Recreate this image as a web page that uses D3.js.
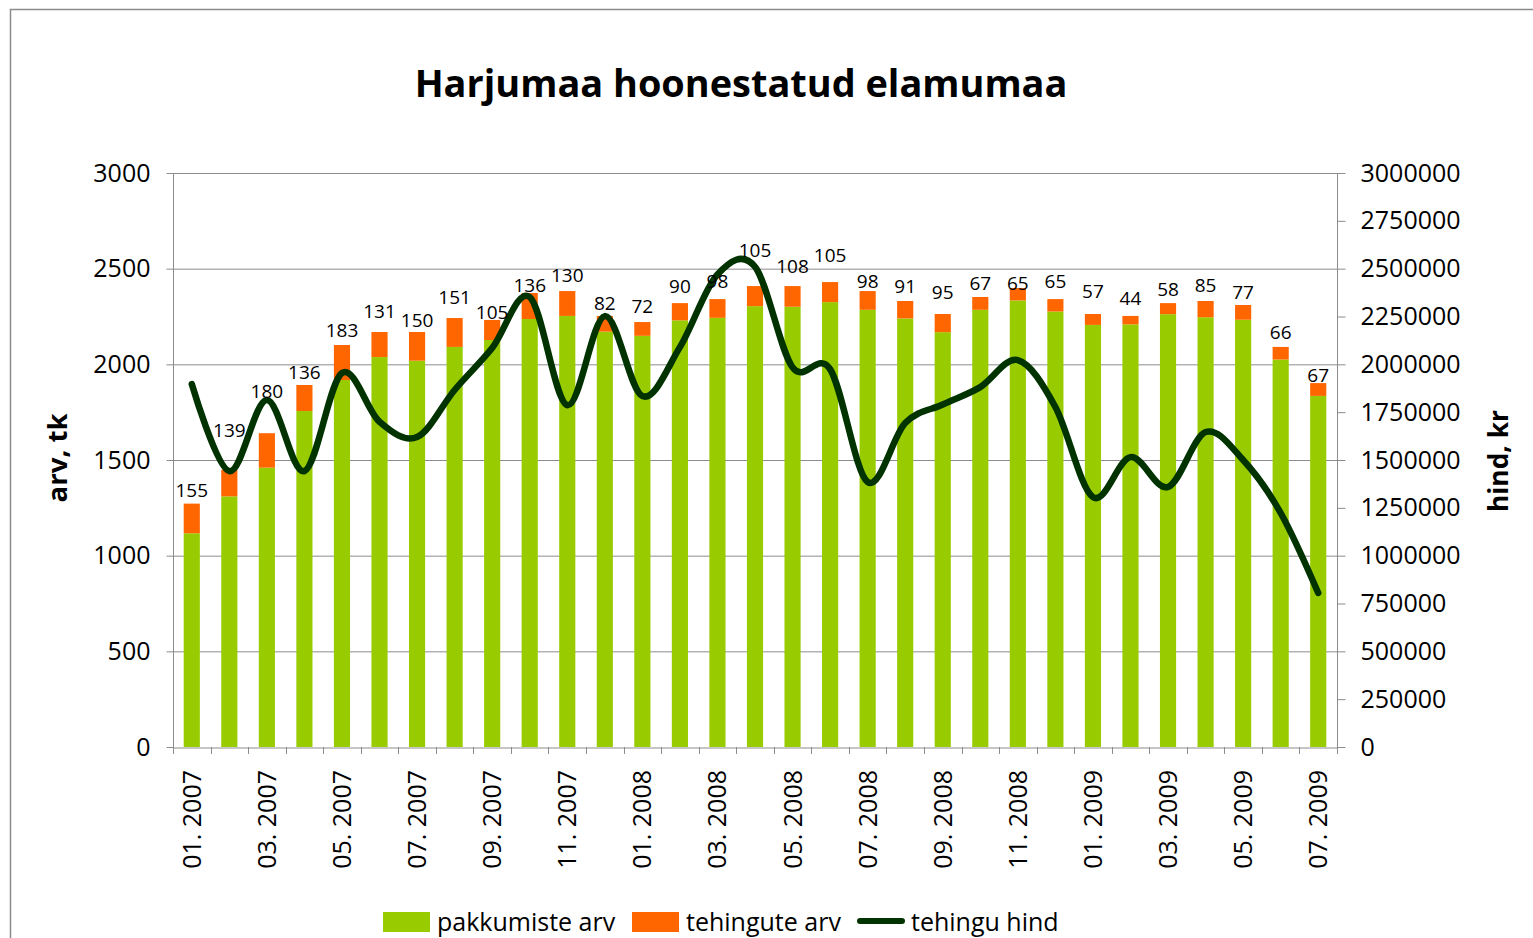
<!DOCTYPE html>
<html>
<head>
<meta charset="utf-8">
<script src="https://cdn.jsdelivr.net/npm/d3@7"></script>
<style>
  html, body { margin: 0; padding: 0; background: #fff; }
  svg { display: block; font-family: "Open Sans", "Noto Sans", sans-serif; }
</style>
</head>
<body>
<svg id="chart" width="1533" height="938"></svg>
<script>
// ---- data ----
const months = ["01. 2007","02. 2007","03. 2007","04. 2007","05. 2007","06. 2007","07. 2007","08. 2007","09. 2007","10. 2007","11. 2007","12. 2007",
                "01. 2008","02. 2008","03. 2008","04. 2008","05. 2008","06. 2008","07. 2008","08. 2008","09. 2008","10. 2008","11. 2008","12. 2008",
                "01. 2009","02. 2009","03. 2009","04. 2009","05. 2009","06. 2009","07. 2009"];
const pakkumisteArv = [1117,1310,1460,1756,1918,2038,2019,2091,2127,2237,2253,2171,
                       2149,2230,2243,2304,2301,2325,2285,2240,2168,2285,2334,2276,
                       2206,2209,2262,2246,2233,2025,1835];
const tehinguteArv = [155,139,180,136,183,131,150,151,105,136,130,82,
                      72,90,98,105,108,105,98,91,95,67,65,65,
                      57,44,58,85,77,66,67];
const tehinguHind = [1897000,1442000,1813000,1442000,1955000,1700000,1620000,1866000,2085000,2352000,1787000,2252000,
                     1834000,2090000,2470000,2510000,1984000,1975000,1385000,1693000,1790000,1881000,2022000,1777000,
                     1306000,1515000,1359000,1646000,1500000,1223000,805000];
const leftTicks = [0,500,1000,1500,2000,2500,3000];
const rightTicks = [0,250000,500000,750000,1000000,1250000,1500000,1750000,2000000,2250000,2500000,2750000,3000000];
const seriesNames = ["pakkumiste arv","tehingute arv","tehingu hind"];
const title = "Harjumaa hoonestatud elamumaa";

// label layout: gap (px) between bar top and label baseline, as placed in the original
const labelGap = [7,33,35,6,8,14,5,14,1,1,9,6,9,10,11,29,13,20,3,8,15,7,-2,11,16,11,7,9,6,8,1];

// ---- layout ----
const svg = d3.select("#chart");
const X0 = 173, X1 = 1337, Y0 = 747, Y1 = 173;
const GREEN = "#99CC00", ORANGE = "#FF6600", LINE = "#003300", GRID = "#8c8c8c";

// border
svg.append("rect").attr("x",10.5).attr("y",9.5).attr("width",1600).attr("height",1000)
  .attr("fill","none").attr("stroke","#8c8c8c").attr("stroke-width",1.5);

const x = d3.scaleBand().domain(months).range([X0,X1]).paddingInner(0.57).paddingOuter(0.285);
const yL = d3.scaleLinear().domain([0,3000]).range([Y0,Y1]);
const yR = d3.scaleLinear().domain([0,3000000]).range([Y0,Y1]);

// gridlines
svg.append("g").selectAll("line").data(leftTicks.filter(d=>d>0)).join("line")
  .attr("x1",X0).attr("x2",X1).attr("y1",d=>yL(d)+0.5).attr("y2",d=>yL(d)+0.5)
  .attr("stroke",GRID).attr("stroke-width",1);

// bars
const stacked = months.map((m,i)=>({m, g:pakkumisteArv[i], o:tehinguteArv[i], gap:labelGap[i]}));
svg.append("g").selectAll("rect").data(stacked).join("rect")
  .attr("x",d=>x(d.m)).attr("width",x.bandwidth())
  .attr("y",d=>yL(d.g)).attr("height",d=>yL(0)-yL(d.g)).attr("fill",GREEN);
svg.append("g").selectAll("rect").data(stacked).join("rect")
  .attr("x",d=>x(d.m)).attr("width",x.bandwidth())
  .attr("y",d=>yL(d.g+d.o)).attr("height",d=>yL(d.g)-yL(d.g+d.o)).attr("fill",ORANGE);

// axes
const leftAxis = d3.axisLeft(yL).tickValues(leftTicks).tickSize(7).tickPadding(16).tickFormat(d3.format("d"));
const gl = svg.append("g").attr("transform",`translate(${X0+0.5},0)`).call(leftAxis);
const rightAxis = d3.axisRight(yR).tickValues(rightTicks).tickSize(8).tickPadding(15).tickFormat(d3.format("d"));
const gr = svg.append("g").attr("transform",`translate(${X1+0.5},0)`).call(rightAxis);
const bottomAxis = d3.axisBottom(x).tickValues([]).tickSizeOuter(0);
const gb = svg.append("g").attr("transform",`translate(0,${Y0+0.5})`).call(bottomAxis);
[gl,gr,gb].forEach(g=>{
  g.selectAll(".domain").attr("stroke",GRID).attr("stroke-width",1);
  g.selectAll(".tick line").attr("stroke",GRID);
  g.selectAll("text").attr("font-size",25).attr("fill","#000").attr("font-family","'Open Sans', sans-serif");
});
gr.select(".domain").attr("d",`M0,${Y0}V${Y1}`);
gl.select(".domain").attr("d",`M0,${Y0}V${Y1}`);
// category boundary ticks
const step = x.step();
svg.append("g").selectAll("line").data(d3.range(months.length+1)).join("line")
  .attr("x1",i=>Math.round(X0+i*step)+0.5).attr("x2",i=>Math.round(X0+i*step)+0.5)
  .attr("y1",Y0).attr("y2",Y0+7).attr("stroke",GRID);

// x labels (every other month)
svg.append("g").selectAll("text").data(months.filter((m,i)=>i%2===0)).join("text")
  .attr("transform",d=>`translate(${x(d)+x.bandwidth()/2},770) rotate(-90)`)
  .attr("text-anchor","end").attr("dy","0.36em")
  .attr("font-size",25).attr("fill","#000").text(d=>d);

// line
const line = d3.line().x((d,i)=>x(months[i])+x.bandwidth()/2).y(d=>yR(d)).curve(d3.curveCatmullRom.alpha(0));
svg.append("path").datum(tehinguHind).attr("d",line)
  .attr("fill","none").attr("stroke",LINE).attr("stroke-width",6.5).attr("stroke-linejoin","round").attr("stroke-linecap","round");

// data labels (on top of the line)
svg.append("g").selectAll("text").data(stacked).join("text")
  .attr("x",d=>x(d.m)+x.bandwidth()/2).attr("y",d=>yL(d.g+d.o)-d.gap)
  .attr("text-anchor","middle").attr("font-size",19).attr("fill","#000").text(d=>d.o);

// title
const t = svg.append("text").attr("x",741).attr("y",97).attr("text-anchor","middle")
  .attr("font-weight","bold").attr("font-size",40).attr("fill","#000").text(title);
const tw = t.node().getComputedTextLength();
t.attr("font-size",40*653/tw);

// axis titles
const a1 = svg.append("text").attr("transform","translate(67,458) rotate(-90)").attr("text-anchor","middle")
  .attr("font-weight","bold").attr("font-size",27).attr("fill","#000").text("arv, tk");
a1.attr("font-size",27*89/a1.node().getComputedTextLength());
const a2 = svg.append("text").attr("transform","translate(1508,461) rotate(-90)").attr("text-anchor","middle")
  .attr("font-weight","bold").attr("font-size",27).attr("fill","#000").text("hind, kr");
a2.attr("font-size",27*102/a2.node().getComputedTextLength());

// legend
const leg = svg.append("g");
const legItems = [{n:seriesNames[0],x:383,c:GREEN,type:"rect"},{n:seriesNames[1],x:632,c:ORANGE,type:"rect"},{n:seriesNames[2],x:857,c:LINE,type:"line"}];
legItems.forEach(it=>{
  if(it.type==="rect"){
    leg.append("rect").attr("x",it.x).attr("y",912).attr("width",47).attr("height",20).attr("fill",it.c);
  } else {
    leg.append("line").attr("x1",it.x+3).attr("x2",it.x+45).attr("y1",921).attr("y2",921)
      .attr("stroke",it.c).attr("stroke-width",6).attr("stroke-linecap","round");
  }
  leg.append("text").attr("x",it.x+54).attr("y",931).attr("font-size",25).attr("fill","#000").text(it.n);
});
</script>
</body>
</html>
